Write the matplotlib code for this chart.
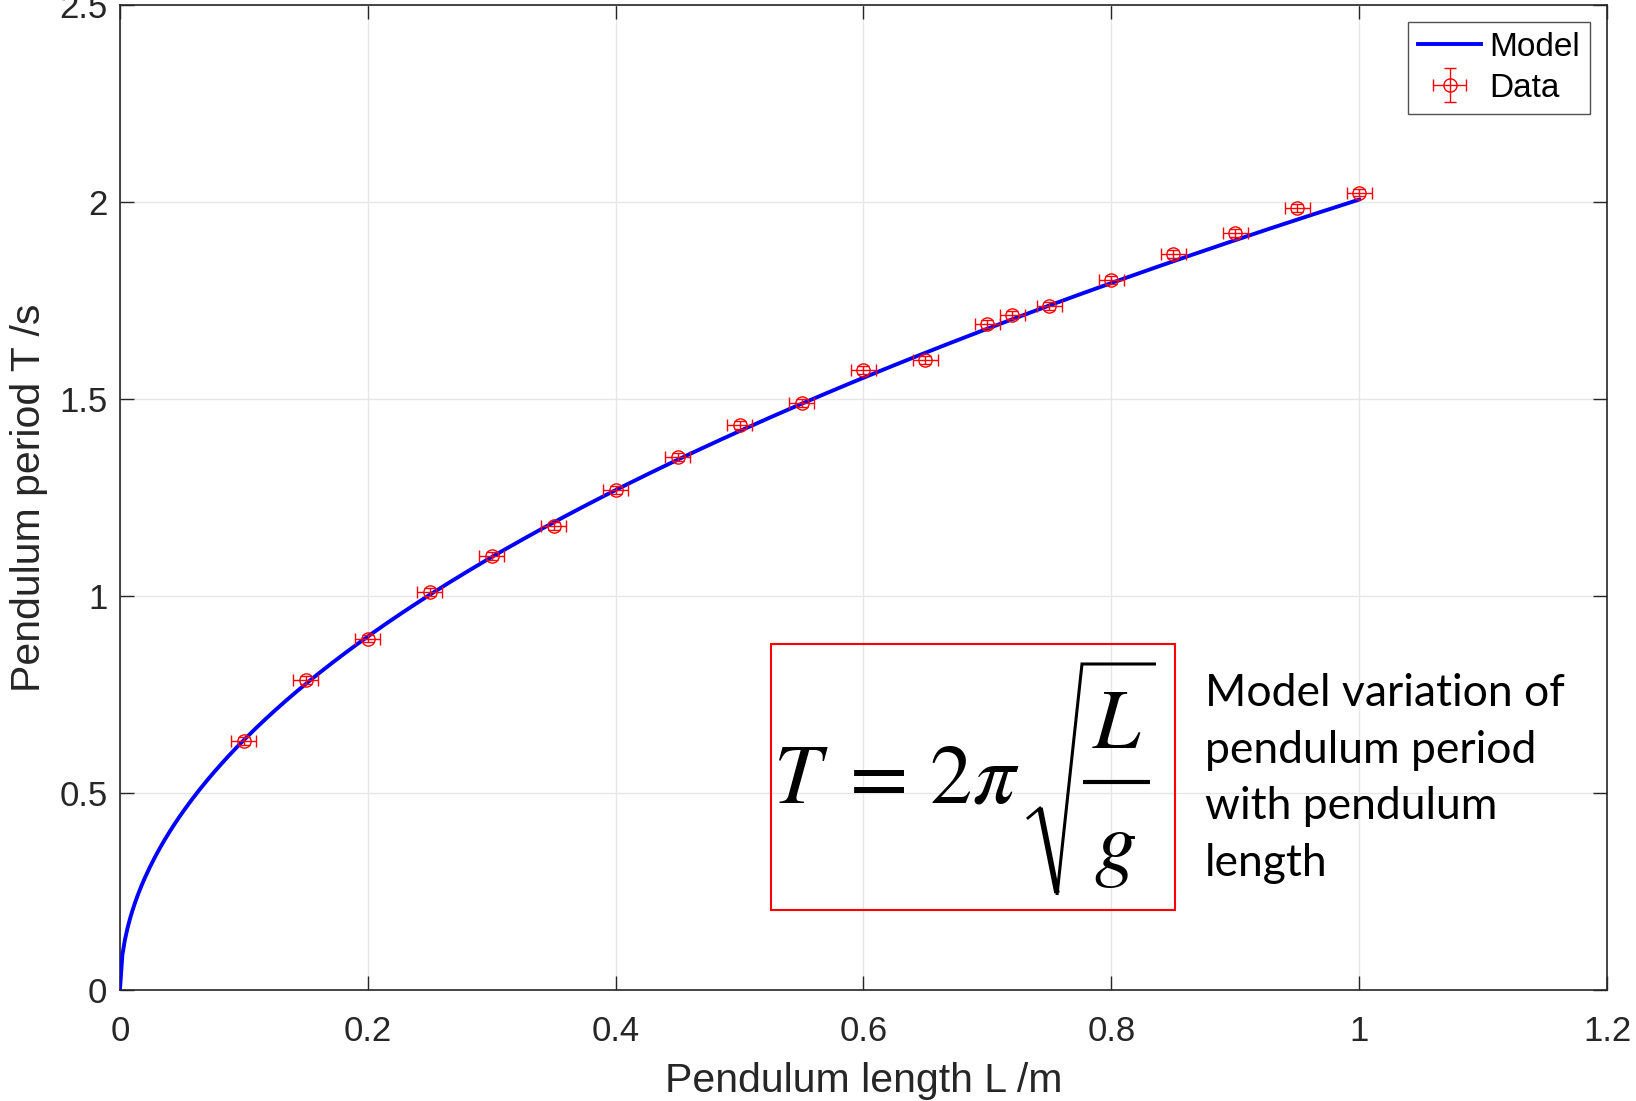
import numpy as np
import matplotlib
matplotlib.use("Agg")
import matplotlib.pyplot as plt
from matplotlib.patches import Rectangle
from matplotlib.lines import Line2D

# measured pendulum data (length /m, period /s)
length_data = [0.10, 0.15, 0.20, 0.25, 0.30, 0.35, 0.40, 0.45, 0.50, 0.55,
               0.60, 0.65, 0.70, 0.72, 0.75, 0.80, 0.85, 0.90, 0.95, 1.00]
period_data = [0.632, 0.786, 0.892, 1.011, 1.101, 1.177, 1.270, 1.352, 1.434, 1.489,
               1.574, 1.598, 1.690, 1.714, 1.735, 1.802, 1.868, 1.921, 1.984, 2.024]
length_err = 0.01
period_err = 0.01

# model T = 2*pi*sqrt(L/g)
g = 9.81
L_model = np.linspace(0, 1, 500)
T_model = 2 * np.pi * np.sqrt(L_model / g)

x_ticks = [0, 0.2, 0.4, 0.6, 0.8, 1, 1.2]
y_ticks = [0, 0.5, 1, 1.5, 2, 2.5]

plt.rcParams['font.family'] = ['Liberation Sans', 'DejaVu Sans']
plt.rcParams['mathtext.fontset'] = 'stix'

dark = '#262626'
fig = plt.figure(figsize=(16.36, 11.01), dpi=100)
ax = fig.add_axes([0.0733, 0.1008, 0.9090, 0.8947])

ax.plot(L_model, T_model, color='#0000ff', lw=2.8, label='Model', zorder=3)
ax.errorbar(length_data, period_data, xerr=length_err, yerr=period_err,
            fmt='o', mfc='none', mec='#ff0000', ms=9.5, mew=1.0,
            ecolor='#ff0000', elinewidth=1.0, capsize=4.5, capthick=1.0,
            label='Data', zorder=4)

ax.set_xlim(0, 1.2)
ax.set_ylim(0, 2.5)
ax.set_xticks(x_ticks)
ax.set_xticklabels(['0', '0.2', '0.4', '0.6', '0.8', '1', '1.2'])
ax.set_yticks(y_ticks)
ax.set_yticklabels(['0', '0.5', '1', '1.5', '2', '2.5'])
ax.grid(True, color='#e6e6e6', lw=1.0, zorder=0)
ax.set_axisbelow(True)
ax.tick_params(direction='in', length=10, width=1.0, colors=dark,
               labelsize=25, top=True, right=True)
ax.tick_params(axis='x', pad=18)
ax.tick_params(axis='y', pad=9)
for s in ax.spines.values():
    s.set_color(dark)
    s.set_linewidth(1.2)

ax.set_xlabel('Pendulum length L /m', fontsize=29.5, color=dark, labelpad=10)
ax.set_ylabel('Pendulum period T /s', fontsize=29.5, color=dark, labelpad=8)

leg = ax.legend(loc='upper right', fontsize=24, frameon=True, fancybox=False,
                edgecolor=dark, borderaxespad=0.5, handlelength=1.9,
                handletextpad=0.25, borderpad=0.3, labelspacing=0.3)
leg.get_frame().set_linewidth(1.0)

# formula box, laid out in figure pixels
W, H = 1636, 1101


def fx(px):
    return px / W


def fy(py):
    return 1 - py / H


box = Rectangle((fx(771), fy(910)), (1175 - 771) / W, (910 - 644) / H,
                transform=fig.transFigure, fill=False, edgecolor='#ff0000', lw=1.5,
                zorder=5)
fig.patches.append(box)
fig.text(fx(1020), fy(803), r'$T\;=\,2\pi$', fontsize=61, ha='right', va='baseline')
fig.text(fx(1117), fy(748), r'$L$', fontsize=61, ha='center', va='baseline')
fig.text(fx(1115), fy(870), r'$g$', fontsize=61, ha='center', va='baseline')
# fraction bar and radical sign
fig.add_artist(Line2D([fx(1083), fx(1150)], [fy(782), fy(782)], color='black',
                      lw=3.0, transform=fig.transFigure, solid_capstyle='butt'))
fig.add_artist(Line2D([fx(1028), fx(1040)], [fy(818), fy(808)], color='black',
                      lw=2.0, transform=fig.transFigure))
fig.add_artist(Line2D([fx(1040), fx(1057)], [fy(808), fy(893)], color='black',
                      lw=4.0, transform=fig.transFigure, solid_capstyle='butt'))
fig.add_artist(Line2D([fx(1057), fx(1082), fx(1156)], [fy(895), fy(664), fy(664)],
                      color='black', lw=2.2, transform=fig.transFigure,
                      solid_joinstyle='miter', solid_capstyle='butt'))

fig.text(fx(1205), fy(673),
         'Model variation of\npendulum period\nwith pendulum\nlength',
         fontsize=32, family=['Lato', 'DejaVu Sans'], ha='left', va='top',
         linespacing=1.47, color='black')

fig.savefig('out.png', dpi=100)
